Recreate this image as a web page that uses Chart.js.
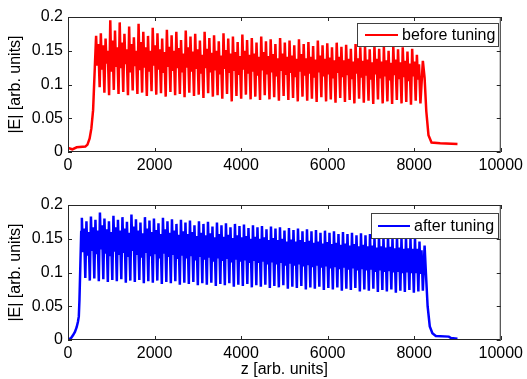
<!DOCTYPE html>
<html>
<head>
<meta charset="utf-8">
<script src="https://cdn.jsdelivr.net/npm/chart.js@4.4.1/dist/chart.umd.min.js"></script>
<style>
    html, body { margin: 0; padding: 0; background: #ffffff; }
    #page { position: relative; width: 527px; height: 379px; overflow: hidden; }
    .panel { position: absolute; left: 0; width: 527px; }
    #topPanel { top: 0; height: 170px; }
    #bottomPanel { top: 188px; height: 191px; }
</style>
</head>
<body>
<div id="page">
    <div class="panel" id="topPanel"><canvas id="beforeChart"></canvas></div>
    <div class="panel" id="bottomPanel"><canvas id="afterChart"></canvas></div>
</div>
<script>
// axis ticks
const zTicks = [0, 2000, 4000, 6000, 8000, 10000];
const eTicks = [0, 0.05, 0.1, 0.15, 0.2];

// before tuning (red)
const beforeLeadIn = [[0, 0.006], [100, 0.004], [200, 0.007], [400, 0.008], [450, 0.011], [500, 0.02], [540, 0.035], [580, 0.062], [620, 0.126], [645, 0.165]];
const beforeStart = 650;
const beforePeriod = 109;
const beforePeakA = [
    0.172, 0.176, 0.168, 0.195, 0.180, 0.192, 0.175, 0.186, 0.170, 0.190,
    0.178, 0.172, 0.184, 0.176, 0.168, 0.181, 0.173, 0.178, 0.166, 0.180,
    0.171, 0.175, 0.165, 0.178, 0.169, 0.173, 0.164, 0.176, 0.168, 0.171,
    0.163, 0.174, 0.166, 0.169, 0.162, 0.171, 0.164, 0.167, 0.160, 0.169,
    0.162, 0.165, 0.158, 0.167, 0.160, 0.163, 0.157, 0.165, 0.158, 0.161,
    0.155, 0.162, 0.156, 0.159, 0.153, 0.160, 0.155, 0.157, 0.152, 0.158,
    0.153, 0.156, 0.150, 0.157, 0.152, 0.155, 0.149, 0.153, 0.144,
];
const beforeMids = [
    0.128, 0.122, 0.131, 0.119, 0.126, 0.124, 0.130, 0.118, 0.127, 0.121,
    0.125, 0.119, 0.128, 0.122, 0.117, 0.126, 0.120, 0.124, 0.118, 0.125,
    0.119, 0.123, 0.116, 0.124, 0.118, 0.121, 0.115, 0.123, 0.117, 0.120,
    0.114, 0.122, 0.116, 0.119, 0.113, 0.121, 0.115, 0.118, 0.112, 0.120,
    0.114, 0.117, 0.111, 0.119, 0.113, 0.116, 0.110, 0.118, 0.112, 0.115,
    0.109, 0.117, 0.111, 0.114, 0.108, 0.116, 0.110, 0.113, 0.107, 0.115,
    0.109, 0.112, 0.106, 0.114, 0.108, 0.111, 0.105, 0.112, 0.107,
];
const beforePeakB = [
    0.160, 0.158, 0.150, 0.165, 0.155, 0.162, 0.152, 0.160, 0.150, 0.163,
    0.155, 0.150, 0.158, 0.152, 0.148, 0.156, 0.150, 0.154, 0.146, 0.155,
    0.149, 0.152, 0.144, 0.153, 0.147, 0.150, 0.143, 0.151, 0.146, 0.148,
    0.142, 0.150, 0.144, 0.146, 0.141, 0.148, 0.142, 0.145, 0.139, 0.146,
    0.141, 0.143, 0.138, 0.145, 0.139, 0.141, 0.137, 0.143, 0.138, 0.140,
    0.136, 0.141, 0.136, 0.138, 0.134, 0.139, 0.135, 0.137, 0.133, 0.138,
    0.134, 0.136, 0.132, 0.137, 0.133, 0.135, 0.131, 0.134, 0.130,
];
const beforeLows = [
    0.096, 0.088, 0.084, 0.092, 0.086, 0.089, 0.084, 0.091, 0.086, 0.088,
    0.083, 0.090, 0.085, 0.087, 0.082, 0.089, 0.084, 0.086, 0.081, 0.088,
    0.083, 0.085, 0.080, 0.087, 0.082, 0.084, 0.079, 0.086, 0.075, 0.083,
    0.079, 0.085, 0.078, 0.082, 0.077, 0.084, 0.078, 0.081, 0.076, 0.083,
    0.077, 0.080, 0.075, 0.082, 0.076, 0.079, 0.074, 0.081, 0.075, 0.078,
    0.073, 0.080, 0.074, 0.077, 0.072, 0.079, 0.073, 0.076, 0.071, 0.078,
    0.072, 0.075, 0.071, 0.077, 0.072, 0.074, 0.070, 0.076, 0.072,
];
const beforeTail = [[8200, 0.135], [8240, 0.11], [8280, 0.06], [8330, 0.025], [8400, 0.014], [8600, 0.013], [9000, 0.012]];

// after tuning (blue)
const afterLeadIn = [[0, 0.002], [60, 0.002], [115, 0.007], [160, 0.012], [200, 0.019], [230, 0.027], [250, 0.035], [265, 0.06], [285, 0.11], [305, 0.16], [318, 0.18]];
const afterStart = 322;
const afterPeriod = 104;
const afterPeakA = [
    0.181, 0.176, 0.183, 0.178, 0.189, 0.180, 0.176, 0.184, 0.178, 0.182,
    0.175, 0.186, 0.179, 0.174, 0.182, 0.177, 0.180, 0.173, 0.181, 0.176,
    0.179, 0.172, 0.178, 0.174, 0.177, 0.170, 0.176, 0.172, 0.175, 0.168,
    0.174, 0.170, 0.173, 0.167, 0.172, 0.169, 0.171, 0.166, 0.170, 0.167,
    0.169, 0.164, 0.168, 0.165, 0.167, 0.162, 0.166, 0.163, 0.165, 0.161,
    0.164, 0.161, 0.163, 0.159, 0.162, 0.159, 0.161, 0.157, 0.160, 0.157,
    0.159, 0.155, 0.158, 0.155, 0.157, 0.153, 0.156, 0.153, 0.155, 0.151,
    0.154, 0.151, 0.153, 0.150, 0.152, 0.146,
];
const afterMids = [
    0.130, 0.125, 0.132, 0.127, 0.134, 0.128, 0.124, 0.131, 0.126, 0.129,
    0.123, 0.132, 0.126, 0.122, 0.129, 0.124, 0.127, 0.121, 0.128, 0.123,
    0.126, 0.120, 0.125, 0.121, 0.124, 0.118, 0.123, 0.119, 0.122, 0.116,
    0.121, 0.117, 0.120, 0.115, 0.119, 0.116, 0.118, 0.114, 0.117, 0.114,
    0.116, 0.112, 0.115, 0.112, 0.114, 0.110, 0.113, 0.110, 0.112, 0.109,
    0.111, 0.108, 0.110, 0.107, 0.109, 0.106, 0.108, 0.105, 0.107, 0.104,
    0.106, 0.103, 0.105, 0.103, 0.104, 0.101, 0.103, 0.101, 0.102, 0.100,
    0.101, 0.099, 0.100, 0.099, 0.099, 0.098,
];
const afterPeakB = [
    0.165, 0.160, 0.167, 0.162, 0.170, 0.164, 0.160, 0.167, 0.162, 0.165,
    0.159, 0.168, 0.162, 0.158, 0.165, 0.160, 0.163, 0.157, 0.164, 0.159,
    0.162, 0.156, 0.161, 0.157, 0.160, 0.154, 0.159, 0.155, 0.158, 0.152,
    0.157, 0.153, 0.156, 0.151, 0.155, 0.152, 0.154, 0.150, 0.153, 0.150,
    0.152, 0.148, 0.151, 0.148, 0.150, 0.146, 0.149, 0.146, 0.148, 0.145,
    0.147, 0.144, 0.146, 0.143, 0.145, 0.142, 0.144, 0.141, 0.143, 0.140,
    0.142, 0.139, 0.141, 0.139, 0.140, 0.137, 0.139, 0.137, 0.138, 0.136,
    0.137, 0.135, 0.136, 0.135, 0.135, 0.133,
];
const afterLows = [
    0.092, 0.088, 0.091, 0.087, 0.090, 0.086, 0.089, 0.087, 0.090, 0.085,
    0.088, 0.086, 0.089, 0.084, 0.087, 0.085, 0.088, 0.083, 0.086, 0.084,
    0.087, 0.082, 0.085, 0.083, 0.086, 0.081, 0.084, 0.082, 0.085, 0.080,
    0.083, 0.081, 0.084, 0.079, 0.082, 0.080, 0.083, 0.078, 0.081, 0.079,
    0.082, 0.077, 0.080, 0.078, 0.081, 0.076, 0.079, 0.077, 0.080, 0.075,
    0.078, 0.076, 0.079, 0.074, 0.077, 0.075, 0.078, 0.073, 0.076, 0.074,
    0.077, 0.072, 0.075, 0.073, 0.076, 0.071, 0.074, 0.072, 0.075, 0.070,
    0.073, 0.071, 0.074, 0.070, 0.072, 0.073,
];
const afterTail = [[8240, 0.14], [8270, 0.10], [8310, 0.05], [8360, 0.02], [8420, 0.01], [8500, 0.006], [8800, 0.005], [8850, 0.003], [9000, 0.002]];

const fontFamily = "'Liberation Sans', Arial, Helvetica, sans-serif";

// each period: high, small dip, shoulder, then the deep dip
function buildSeries(leadIn, start, period, peakA, mids, peakB, lows, tail) {
    const pts = leadIn.map(([x, y]) => ({ x, y }));
    peakA.forEach((a, i) => {
        const z = start + i * period;
        pts.push({ x: z, y: a });
        pts.push({ x: z + 0.22 * period, y: mids[i] });
        pts.push({ x: z + 0.45 * period, y: peakB[i] });
        pts.push({ x: z + 0.75 * period, y: lows[i] });
    });
    tail.forEach(([x, y]) => pts.push({ x, y }));
    return pts;
}

function fmt(v) {
    return String(Number(v.toFixed(2)));
}

// MATLAB-like box with inward ticks, plus a boxed legend
const matlabAxes = {
    id: "matlabAxes",
    afterDatasetsDraw(chart, args, opts) {
        const { ctx, chartArea: a, scales } = chart;
        ctx.save();
        ctx.strokeStyle = "#262626";
        ctx.lineWidth = 1;
        ctx.strokeRect(a.left + 0.5, a.top + 0.5, a.right - a.left - 1, a.bottom - a.top - 1);
        ctx.beginPath();
        zTicks.forEach((t) => {
            const px = Math.round(scales.x.getPixelForValue(t)) + 0.5;
            ctx.moveTo(px, a.bottom); ctx.lineTo(px, a.bottom - 4);
            ctx.moveTo(px, a.top); ctx.lineTo(px, a.top + 4);
        });
        eTicks.forEach((t) => {
            const py = Math.round(scales.y.getPixelForValue(t)) + 0.5;
            ctx.moveTo(a.left, py); ctx.lineTo(a.left + 4, py);
            ctx.moveTo(a.right, py); ctx.lineTo(a.right - 4, py);
        });
        ctx.stroke();

        const L = opts.legend;
        ctx.fillStyle = "#ffffff";
        ctx.fillRect(L.x, L.y, L.w, L.h);
        ctx.strokeStyle = "#404040";
        ctx.strokeRect(L.x + 0.5, L.y + 0.5, L.w, L.h);
        ctx.strokeStyle = opts.color;
        ctx.lineWidth = 2;
        ctx.beginPath();
        ctx.moveTo(L.x1, L.y + L.h / 2 + 0.5);
        ctx.lineTo(L.x2, L.y + L.h / 2 + 0.5);
        ctx.stroke();
        ctx.fillStyle = "#000000";
        ctx.font = "16px " + fontFamily;
        ctx.textBaseline = "middle";
        ctx.fillText(L.text, L.tx, L.y + L.h / 2 + 1);
        ctx.restore();
    },
};

function makeChart(canvasId, points, color, legend, xAxisHeight, showXTitle) {
    return new Chart(document.getElementById(canvasId), {
        type: "line",
        data: {
            datasets: [{
                data: points,
                borderColor: color,
                borderWidth: 2.5,
                pointRadius: 0,
                tension: 0,
                fill: false,
            }],
        },
        options: {
            responsive: true,
            maintainAspectRatio: false,
            animation: false,
            events: [],
            layout: { padding: { top: 17, right: 24, left: 0, bottom: 0 } },
            plugins: {
                legend: { display: false },
                tooltip: { enabled: false },
                matlabAxes: { color, legend },
            },
            scales: {
                x: {
                    type: "linear",
                    min: 0,
                    max: 10000,
                    afterBuildTicks: (s) => { s.ticks = zTicks.map((v) => ({ value: v })); },
                    afterFit: (s) => { s.height = xAxisHeight; },
                    grid: { display: false, drawTicks: false },
                    border: { display: false },
                    ticks: { color: "#000000", font: { family: fontFamily, size: 16 }, padding: 4, maxRotation: 0, callback: (v) => String(v) },
                    title: { display: showXTitle, text: "z [arb. units]", color: "#000000", font: { family: fontFamily, size: 16 }, padding: { top: 0, bottom: 0 } },
                },
                y: {
                    min: 0,
                    max: 0.2,
                    afterBuildTicks: (s) => { s.ticks = eTicks.map((v) => ({ value: v })); },
                    afterFit: (s) => { s.width = 68; },
                    grid: { display: false, drawTicks: false },
                    border: { display: false },
                    ticks: { color: "#000000", font: { family: fontFamily, size: 16 }, padding: 5, callback: (v) => fmt(v) },
                    title: { display: true, text: "|E| [arb. units]", color: "#000000", font: { family: fontFamily, size: 16 }, padding: { top: 6, bottom: 0 } },
                },
            },
        },
        plugins: [matlabAxes],
    });
}

document.addEventListener("DOMContentLoaded", () => {
    makeChart(
        "beforeChart",
        buildSeries(beforeLeadIn, beforeStart, beforePeriod, beforePeakA, beforeMids, beforePeakB, beforeLows, beforeTail),
        "#ff0000",
        { x: 357, y: 23, w: 141, h: 23, x1: 365, x2: 398, tx: 402, text: "before tuning" },
        18,
        false
    );
    makeChart(
        "afterChart",
        buildSeries(afterLeadIn, afterStart, afterPeriod, afterPeakA, afterMids, afterPeakB, afterLows, afterTail),
        "#0000ff",
        { x: 371, y: 25, w: 127, h: 25, x1: 378, x2: 410, tx: 414, text: "after tuning" },
        39,
        true
    );
});
</script>
</body>
</html>
